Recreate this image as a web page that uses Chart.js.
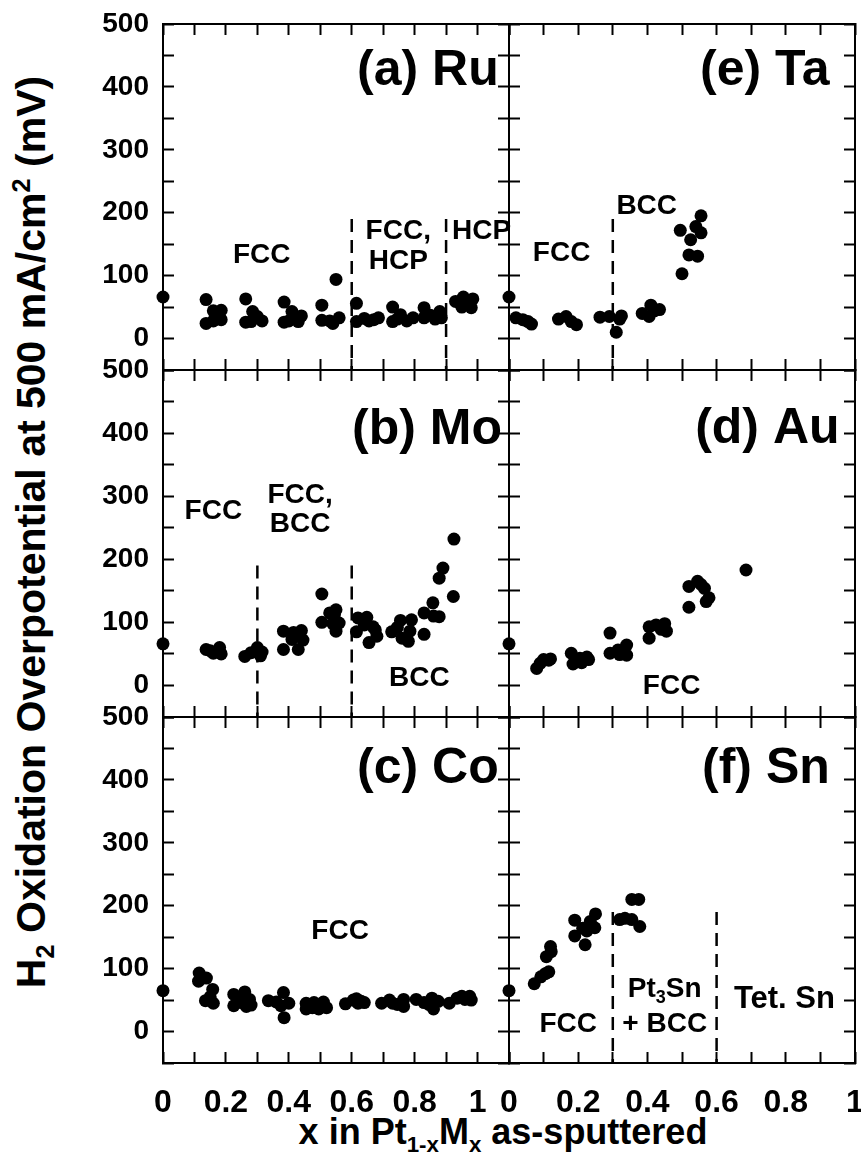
<!DOCTYPE html>
<html>
<head>
<meta charset="utf-8">
<script src="https://cdn.jsdelivr.net/npm/chart.js@4.4.1/dist/chart.umd.min.js"></script>
<style>
  body { margin: 0; background: #fff; width: 861px; height: 1154px; position: relative; overflow: hidden;
         font-family: 'Liberation Sans', Arial, sans-serif; font-weight: bold; color: #000; }
  canvas { position: absolute; }
  #ytitle { position: absolute; left: 31px; top: 532px; white-space: nowrap; font-size: 41px;
            transform: translate(-50%, -50%) rotate(-90deg); }
  #xtitle { position: absolute; left: 503px; top: 1132px; white-space: nowrap; font-size: 36px;
            transform: translate(-50%, -50%); }
  sub, sup { font-size: 62%; line-height: 0; }
</style>
</head>
<body>
<div id="ytitle">H<sub>2</sub> Oxidation Overpotential at 500 mA/cm<sup>2</sup> (mV)</div>
<div id="xtitle">x in Pt<sub>1-x</sub>M<sub>x</sub> as-sputtered</div>
<script>
// overpotential (mV) vs. x
const ruX = [0, 0.137, 0.137, 0.16, 0.185, 0.17, 0.185, 0.16, 0.263, 0.263, 0.285, 0.3, 0.315, 0.28,
  0.385, 0.385, 0.41, 0.44, 0.43, 0.40, 0.505, 0.505, 0.53, 0.54, 0.56, 0.55, 0.615, 0.615, 0.64, 0.655, 0.685, 0.67,
  0.73, 0.73, 0.755, 0.775, 0.795, 0.745, 0.83, 0.83, 0.85, 0.865, 0.885, 0.88, 0.93, 0.955, 0.985, 0.95, 0.98, 0.965];
const ruY = [66, 62, 24, 44, 45, 33, 30, 28, 63, 26, 43, 35, 28, 27,
  58, 26, 43, 36, 27, 28, 53, 29, 28, 24, 33, 94, 56, 27, 32, 28, 33, 30,
  50, 27, 38, 28, 33, 31, 49, 33, 37, 31, 33, 43, 59, 66, 63, 50, 49, 60];

const taX = [0, 0.02, 0.04, 0.055, 0.065, 0.143, 0.165, 0.18, 0.195, 0.263, 0.29, 0.32, 0.31, 0.325,
  0.385, 0.405, 0.41, 0.435, 0.42, 0.50, 0.495, 0.525, 0.54, 0.555, 0.555, 0.52, 0.545];
const taY = [66, 33, 30, 27, 23, 31, 35, 27, 22, 34, 35, 31, 10, 36,
  40, 35, 53, 46, 44, 103, 172, 157, 178, 195, 168, 133, 131];

const moX = [0, 0.137, 0.16, 0.18, 0.185, 0.15, 0.26, 0.28, 0.298, 0.315, 0.31, 0.30,
  0.383, 0.383, 0.41, 0.44, 0.43, 0.445, 0.415, 0.505, 0.505, 0.53, 0.55, 0.55, 0.56, 0.54, 0.545,
  0.615, 0.62, 0.648, 0.655, 0.668, 0.68, 0.64, 0.675, 0.727, 0.755, 0.76, 0.78, 0.79, 0.785, 0.745,
  0.83, 0.83, 0.858, 0.86, 0.878, 0.878, 0.89, 0.923, 0.925];
const moY = [66, 57, 51, 60, 50, 55, 46, 52, 56, 53, 47, 60,
  86, 57, 73, 87, 57, 72, 84, 145, 100, 115, 120, 86, 99, 98, 112,
  85, 107, 108, 68, 93, 78, 96, 88, 85, 103, 75, 70, 104, 86, 92,
  81, 115, 131, 110, 109, 170, 186, 141, 232];

const auX = [0, 0.08, 0.09, 0.10, 0.115, 0.12, 0.18, 0.185, 0.205, 0.23, 0.21, 0.225,
  0.292, 0.292, 0.315, 0.34, 0.34, 0.32, 0.405, 0.405, 0.425, 0.45, 0.455, 0.44,
  0.52, 0.52, 0.545, 0.565, 0.57, 0.578, 0.555, 0.685];
const auY = [66, 27, 35, 41, 40, 42, 51, 34, 43, 41, 36, 45,
  83, 51, 56, 64, 48, 49, 93, 75, 96, 98, 86, 89,
  157, 124, 165, 154, 133, 139, 160, 183];

const coX = [0, 0.115, 0.138, 0.113, 0.158, 0.135, 0.16, 0.15, 0.225, 0.225, 0.26, 0.275, 0.265, 0.25, 0.28, 0.24,
  0.335, 0.36, 0.383, 0.385, 0.40, 0.375, 0.455, 0.455, 0.48, 0.51, 0.52, 0.495, 0.475,
  0.58, 0.605, 0.62, 0.64, 0.615, 0.63, 0.695, 0.72, 0.745, 0.765, 0.765, 0.73,
  0.805, 0.83, 0.855, 0.86, 0.875, 0.845, 0.91, 0.935, 0.95, 0.975, 0.98, 0.96];
const coY = [65, 93, 85, 80, 67, 49, 45, 55, 59, 41, 63, 51, 40, 46, 42, 52,
  49, 47, 62, 22, 45, 41, 45, 36, 46, 47, 38, 36, 38,
  44, 50, 45, 46, 52, 48, 45, 50, 43, 51, 40, 45,
  51, 46, 53, 36, 48, 43, 45, 53, 56, 56, 50, 51];

const snX = [0, 0.073, 0.092, 0.105, 0.115, 0.108, 0.12, 0.122, 0.19, 0.19, 0.22, 0.213, 0.235, 0.25, 0.248, 0.225,
  0.32, 0.355, 0.375, 0.355, 0.378, 0.335];
const snY = [65, 76, 87, 92, 95, 119, 135, 127, 177, 152, 138, 164, 175, 187, 165, 160,
  178, 210, 210, 178, 167, 180];

// phase boundaries (x) per panel
const ruBounds = [0.6, 0.9];
const taBounds = [0.3];
const moBounds = [0.3, 0.6];
const snBounds = [0.3, 0.6];

// axis ticks
const yTickLabels = [0, 100, 200, 300, 400, 500];
const xTickLabels = [0, 0.2, 0.4, 0.6, 0.8, 1];

const panels = [
  { name: "(a) Ru", xs: ruX, ys: ruY, bounds: ruBounds, col: 0, row: 0, labelAt: [0.617, 403],
    phases: [["FCC", 0.314, 133], ["FCC,", 0.748, 170], ["HCP", 0.748, 123], ["HCP", 1.013, 170]] },
  { name: "(e) Ta", xs: taX, ys: taY, bounds: taBounds, col: 1, row: 0, labelAt: [0.552, 403],
    phases: [["FCC", 0.152, 136], ["BCC", 0.398, 210]] },
  { name: "(b) Mo", xs: moX, ys: moY, bounds: moBounds, col: 0, row: 1, labelAt: [0.601, 382],
    phases: [["FCC", 0.16, 276], ["FCC,", 0.436, 302], ["BCC", 0.436, 255], ["BCC", 0.815, 11]] },
  { name: "(d) Au", xs: auX, ys: auY, bounds: [], col: 1, row: 1, labelAt: [0.538, 385],
    phases: [["FCC", 0.47, -2]] },
  { name: "(c) Co", xs: coX, ys: coY, bounds: [], col: 0, row: 2, labelAt: [0.617, 395],
    phases: [["FCC", 0.563, 159]] },
  { name: "(f) Sn", xs: snX, ys: snY, bounds: snBounds, col: 1, row: 2, labelAt: [0.558, 395],
    phases: [["FCC", 0.171, 11], [["Pt", "3", "Sn"], 0.45, 67], ["+ BCC", 0.45, 11], ["Tet. Sn", 0.796, 51, 31]] }
];

const FONT = "'Liberation Sans', Arial, sans-serif";
Chart.defaults.font.family = FONT;
Chart.defaults.font.weight = "bold";
Chart.defaults.color = "#000";

const colLeft = [163, 509];
const rowTop = [24, 370, 717];
const rowH = [346, 347, 346];
const W = 346;

// text labels drawn in data units
const textPlugin = {
  id: "panelText",
  afterDatasetsDraw(chart) {
    const p = chart.options.plugins.panelText;
    const ctx = chart.ctx, xs = chart.scales.x, ys = chart.scales.y;
    ctx.save();
    ctx.fillStyle = "#000";
    ctx.font = "bold 50px " + FONT;
    ctx.textAlign = "left";
    ctx.textBaseline = "alphabetic";
    ctx.fillText(p.name, xs.getPixelForValue(p.labelAt[0]), ys.getPixelForValue(p.labelAt[1]));
    ctx.textBaseline = "middle";
    p.phases.forEach(([txt, x, y, size]) => {
      const px = xs.getPixelForValue(x), py = ys.getPixelForValue(y);
      if (Array.isArray(txt)) {
        // Pt3Sn with subscript
        ctx.font = "bold 28px " + FONT;
        const a = ctx.measureText(txt[0]).width, c = ctx.measureText(txt[2]).width;
        ctx.font = "bold 18px " + FONT;
        const b = ctx.measureText(txt[1]).width;
        let sx = px - (a + b + c) / 2;
        ctx.textAlign = "left";
        ctx.font = "bold 28px " + FONT;
        ctx.fillText(txt[0], sx, py);
        ctx.font = "bold 18px " + FONT;
        ctx.fillText(txt[1], sx + a, py + 9);
        ctx.font = "bold 28px " + FONT;
        ctx.fillText(txt[2], sx + a + b, py);
      } else {
        ctx.font = "bold " + (size || 28) + "px " + FONT;
        ctx.textAlign = "center";
        ctx.fillText(txt, px, py);
      }
    });
    ctx.restore();
  }
};

function fmtY(v) { return yTickLabels.includes(v) ? String(v) : ""; }
function fmtX(v) {
  const t = Math.round(v * 10) / 10;
  return xTickLabels.includes(t) ? String(t) : "";
}

panels.forEach(p => {
  const padL = p.col === 0 ? 110 : 12, padR = 12, padT = 12, padB = p.row === 2 ? 80 : 12;
  const H = rowH[p.row];
  const cv = document.createElement("canvas");
  cv.width = padL + W + padR;
  cv.height = padT + H + padB;
  cv.style.left = (colLeft[p.col] - padL) + "px";
  cv.style.top = (rowTop[p.row] - padT) + "px";
  document.body.appendChild(cv);

  const xMax = p.col === 0 ? 1.1 : 1;
  const grid = { drawOnChartArea: false, drawTicks: true, tickLength: -11, tickColor: "#000", tickWidth: 2 };
  const border = { display: true, color: "#000", width: 2 };

  const datasets = [{
    type: "scatter",
    data: p.xs.map((x, i) => ({ x: x, y: p.ys[i] })),
    backgroundColor: "#000",
    borderColor: "#000",
    pointRadius: 6.5,
    pointBorderWidth: 0,
    clip: false
  }];
  p.bounds.forEach(b => datasets.push({
    type: "line",
    data: [{ x: b, y: 190 }, { x: b, y: -50 }],
    borderColor: "#000",
    borderWidth: 2.5,
    borderDash: [13, 8],
    pointRadius: 0,
    clip: false
  }));

  new Chart(cv.getContext("2d"), {
    data: { datasets: datasets },
    options: {
      responsive: false,
      animation: false,
      devicePixelRatio: 1,
      layout: { padding: 0 },
      plugins: {
        legend: { display: false },
        tooltip: { enabled: false },
        panelText: { name: p.name, labelAt: p.labelAt, phases: p.phases }
      },
      scales: {
        x: {
          type: "linear", position: "bottom", min: 0, max: xMax,
          grid: grid, border: border,
          ticks: { stepSize: 0.1, display: p.row === 2, callback: fmtX, autoSkip: false, maxRotation: 0,
                   padding: 32, font: { size: 32, weight: "bold" } },
          afterFit: s => { s.height = padB; s.paddingLeft = 0; s.paddingRight = 0; }
        },
        xTop: {
          type: "linear", position: "top", min: 0, max: xMax,
          grid: grid, border: border,
          ticks: { stepSize: 0.1, display: false },
          afterFit: s => { s.height = padT; s.paddingLeft = 0; s.paddingRight = 0; }
        },
        y: {
          type: "linear", position: "left", min: -50, max: 500,
          grid: grid, border: border,
          ticks: { stepSize: 50, display: p.col === 0, callback: fmtY, autoSkip: false,
                   padding: 25, font: { size: 28, weight: "bold" } },
          afterFit: s => { s.width = padL; s.paddingTop = 0; s.paddingBottom = 0; }
        },
        yRight: {
          type: "linear", position: "right", min: -50, max: 500,
          grid: grid, border: border,
          ticks: { stepSize: 50, display: false },
          afterFit: s => { s.width = padR; s.paddingTop = 0; s.paddingBottom = 0; }
        }
      }
    },
    plugins: [textPlugin]
  });
});
</script>
</body>
</html>
